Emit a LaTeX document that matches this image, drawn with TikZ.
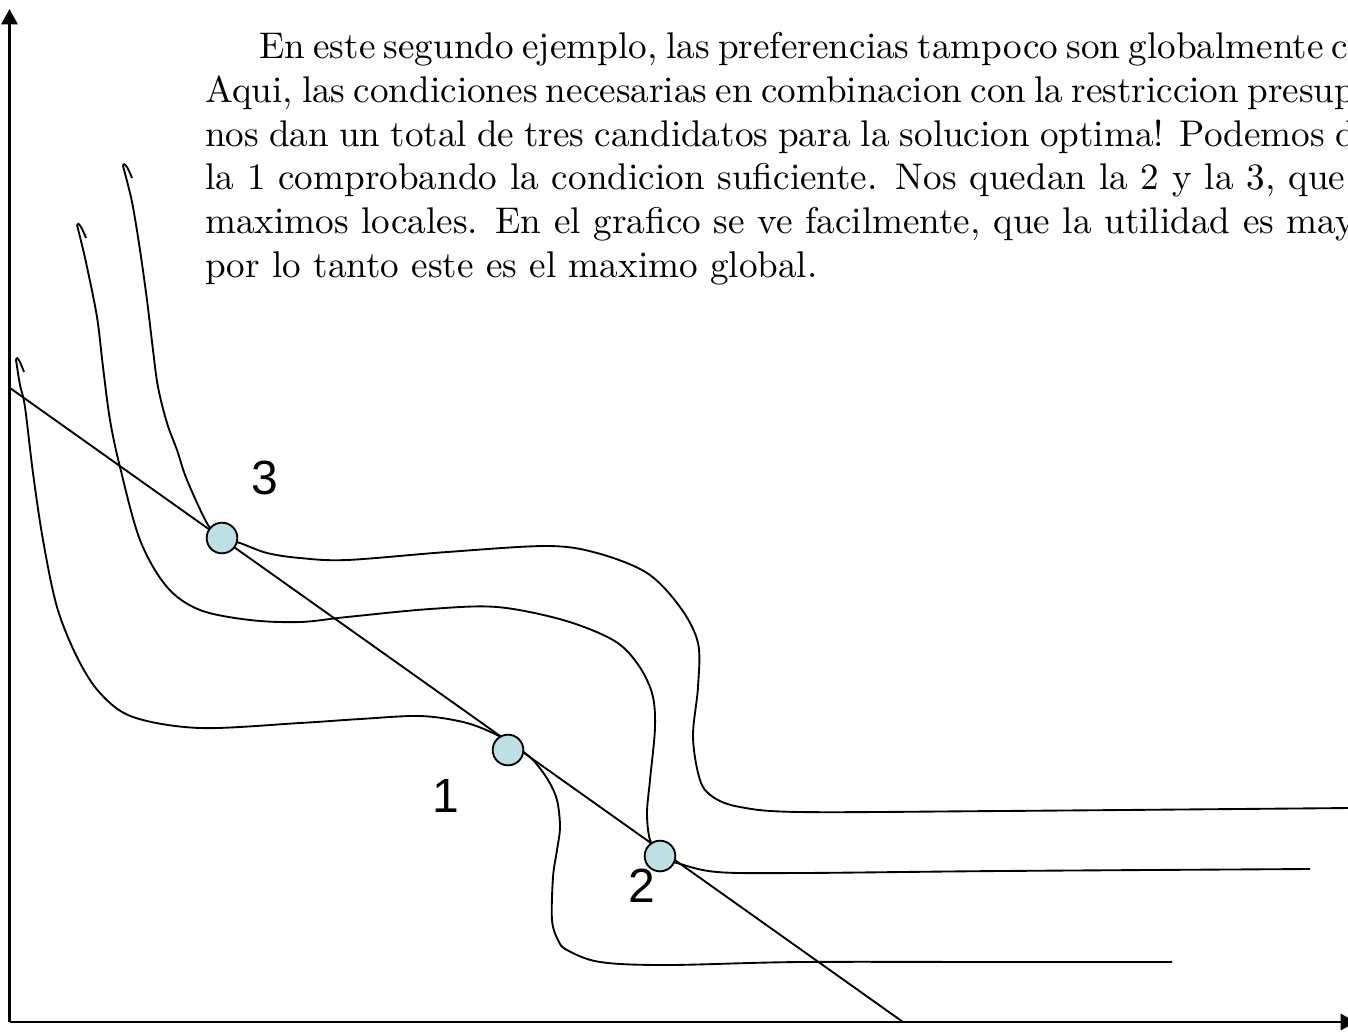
\documentclass[tikz,border=0pt]{standalone}
\usepackage{fontspec}
\usepackage{graphicx}
\usetikzlibrary{arrows.meta}
\newfontfamily\labelfont{Liberation Sans}
\definecolor{dotfill}{RGB}{188,224,228}
\newcommand{\bodyline}[2]{\scalebox{2.786}{\fontsize{10}{12}\selectfont\makebox[#1][s]{#2}}}
\newcommand{\bodynat}[1]{\scalebox{2.786}{\fontsize{10}{12}\selectfont #1}}
\tikzset{
  axis/.style={line width=2.2pt,-{Triangle[length=11.5pt,width=12pt]}},
  curve/.style={line width=1.4pt},
  budget/.style={line width=1.4pt},
  dot/.style={circle,draw,line width=1.4pt,fill=dotfill,minimum size=23pt,inner sep=0pt},
  txtline/.style={anchor=base west,inner sep=0pt},
  numlabel/.style={font=\labelfont\fontsize{36}{40}\selectfont,inner sep=0pt}
}
\begin{document}
\begin{tikzpicture}[x=0.75pt,y=-0.75pt]
\useasboundingbox (0,0) rectangle (1348,1032);
\clip (0,0) rectangle (1348,1032);
% paragraph
\node[txtline] (t1) at (259,58) {\bodyline{291.6pt}{En este segundo ejemplo, las preferencias tampoco son globalmente c}};
\node[txtline] (t2) at (205,102) {\bodyline{307.9pt}{Aqui, las condiciones necesarias en combinacion con la restriccion presup}};
\node[txtline] (t3) at (205,146) {\bodyline{309.7pt}{nos dan un total de tres candidatos para la solucion optima! Podemos d}};
\node[txtline] (t4) at (205,189) {\bodyline{306.9pt}{la 1 comprobando la condicion suficiente. Nos quedan la 2 y la 3, que}};
\node[txtline] (t5) at (205,233) {\bodyline{309.5pt}{maximos locales. En el grafico se ve facilmente, que la utilidad es may}};
\node[txtline] (t6) at (205,277) {\bodynat{por lo tanto este es el maximo global.}};
% axes
\coordinate (O) at (9.5,1022);
\coordinate (Ytop) at (9.5,9);
\coordinate (Xend) at (1356,1022);
\draw[axis] (O) -- (Ytop);
\draw[axis] (O) -- (Xend);
% indifference curves
\draw[curve] (24,372) .. controls (21,364) and (17,354) .. (16,360)
  plot[smooth,tension=0.55] coordinates {(16,360) (20,385) (25,407) (33,473) (43,540) (57,607) (77,657) (100,693) (133,717) (200,728) (300,723) (360,719) (420,716) (463,722) (493,733) (515,746) (533,760) (548,780) (557,800) (560,827) (557,850) (553,877) (552,920) (558,940) (567,950) (600,962) (667,965) (800,962) (1000,962) (1172,962)};
\draw[curve] (86,238) .. controls (83,230) and (78,220) .. (77,225)
  plot[smooth,tension=0.55] coordinates {(77,225) (82,245) (87,267) (97,317) (103,367) (110,420) (120,467) (140,540) (167,587) (200,610) (250,620) (300,622) (347,617) (430,609) (497,607) (563,620) (613,640) (637,663) (652,693) (655,727) (650,780) (647,813) (650,840) (660,857) (677,863) (717,872) (800,873) (1000,871) (1310,869)};
\draw[curve] (132,178) .. controls (129,170) and (124,160) .. (123,166)
  plot[smooth,tension=0.55] coordinates {(123,166) (128,185) (133,207) (140,250) (147,300) (153,350) (158,387) (167,423) (177,450) (187,480) (208,525) (222,538) (240,543) (267,553) (300,558) (347,560) (447,552) (547,546) (597,553) (647,573) (680,607) (698,643) (698,687) (693,737) (700,780) (713,797) (740,807) (800,812) (1000,811) (1350,808)};
% budget line
\coordinate (B1) at (10,388);
\coordinate (B2) at (903,1022);
\draw[budget] (B1) -- (B2);
% candidate points
\node[dot] (p3) at (222,538) {};
\node[dot] (p1) at (508,750) {};
\node[dot] (p2) at (660,856) {};
\node[numlabel] (l3) at (265,478) {3};
\node[numlabel] (l1) at (446,796) {1};
\node[numlabel] (l2) at (642,886) {2};
\end{tikzpicture}
\end{document}
